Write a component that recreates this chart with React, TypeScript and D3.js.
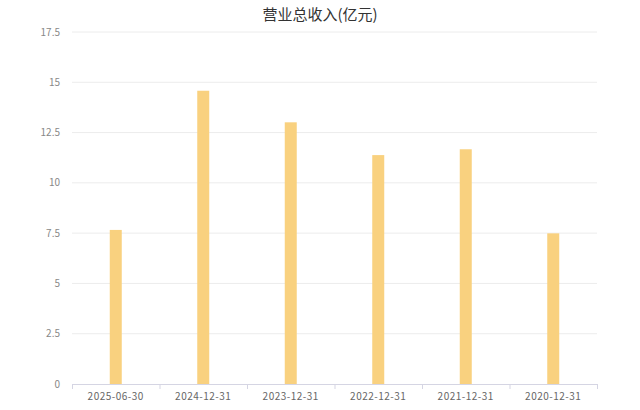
import * as d3 from "d3";
import React from "react";

const title = "营业总收入(亿元)";
const categories = [
  "2025-06-30",
  "2024-12-31",
  "2023-12-31",
  "2022-12-31",
  "2021-12-31",
  "2020-12-31",
];
const revenue = [7.66, 14.58, 13.01, 11.38, 11.67, 7.49];
const yTicks = [0, 2.5, 5, 7.5, 10, 12.5, 15, 17.5];

export default function App() {
  const width = 640;
  const height = 410;
  const margin = { top: 32, right: 43, bottom: 26, left: 72 };
  const innerW = width - margin.left - margin.right;
  const innerH = height - margin.top - margin.bottom;

  const x = d3.scaleBand().domain(categories).range([0, innerW]);
  const y = d3.scaleLinear().domain([0, 17.5]).range([innerH, 0]);
  const barW = 12;

  return (
    <svg
      width={width}
      height={height}
      style={{ position: "absolute", left: 0, top: 0, background: "#fff" }}
      fontFamily="'Noto Sans CJK SC', 'Noto Sans', sans-serif"
    >
      <text x={320} y={20} textAnchor="middle" fontSize={15} fill="#333">
        {title}
      </text>
      <g transform={`translate(${margin.left},${margin.top})`}>
        {yTicks.map((t) => (
          <g key={t}>
            {t !== 0 && (
              <line x1={0} x2={innerW} y1={y(t)} y2={y(t)} stroke="#ececec" />
            )}
            <text
              x={-12}
              y={y(t)}
              dy="0.35em"
              textAnchor="end"
              fontSize={10}
              fill="#888"
            >
              {t}
            </text>
          </g>
        ))}
        {categories.map((c, i) => (
          <rect
            key={c}
            x={(x(c) || 0) + x.bandwidth() / 2 - barW / 2}
            y={y(revenue[i])}
            width={barW}
            height={innerH - y(revenue[i])}
            fill="#f9d17f"
          />
        ))}
        <line x1={0} x2={innerW} y1={innerH + 0.5} y2={innerH + 0.5} stroke="#d5d5e3" />
        {[...categories.map((c) => x(c) || 0), innerW].map((p, i) => (
          <line
            key={i}
            x1={p + 0.5}
            x2={p + 0.5}
            y1={innerH}
            y2={innerH + 5}
            stroke="#d5d5e3"
          />
        ))}
        {categories.map((c) => (
          <text
            key={c}
            x={(x(c) || 0) + x.bandwidth() / 2}
            y={innerH + 16}
            textAnchor="middle"
            fontSize={10}
            letterSpacing={0.5}
            fill="#666"
          >
            {c}
          </text>
        ))}
      </g>
    </svg>
  );
}
